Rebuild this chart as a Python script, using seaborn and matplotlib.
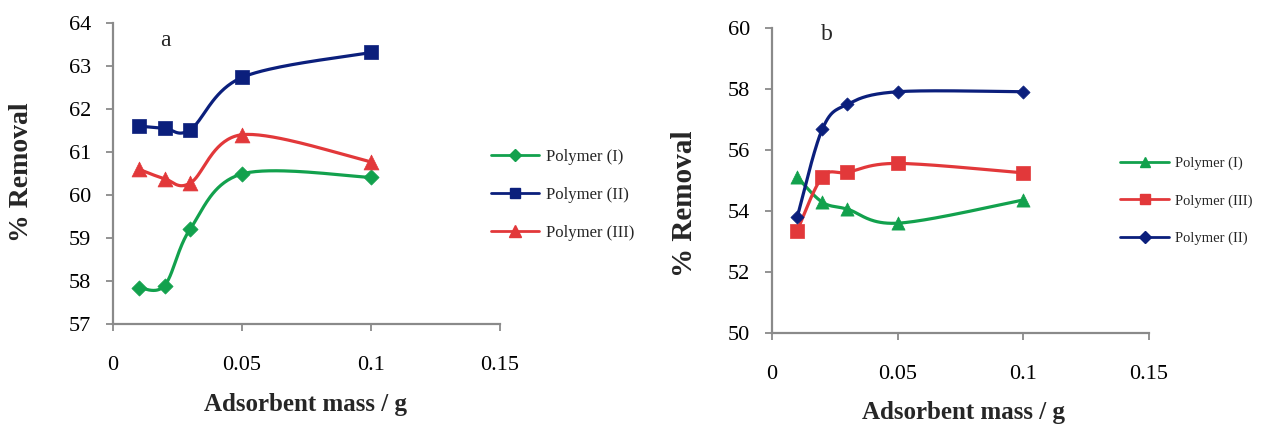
import numpy as np
import pandas as pd
import matplotlib
matplotlib.use("Agg")
import matplotlib.pyplot as plt
from matplotlib.lines import Line2D
import seaborn as sns

# ---------------- data ----------------
mass = [0.01, 0.02, 0.03, 0.05, 0.1]

a_poly_I = [57.85, 57.90, 59.22, 60.49, 60.41]
a_poly_II = [61.60, 61.55, 61.52, 62.73, 63.31]
a_poly_III = [60.60, 60.38, 60.28, 61.40, 60.77]

b_poly_I = [55.12, 54.30, 54.07, 53.61, 54.37]
b_poly_III = [53.36, 55.12, 55.28, 55.57, 55.26]
b_poly_II = [53.80, 56.69, 57.51, 57.92, 57.92]

x_ticks = [0, 0.05, 0.1, 0.15]
x_tick_labels = ["0", "0.05", "0.1", "0.15"]
a_y_ticks = [57, 58, 59, 60, 61, 62, 63, 64]
b_y_ticks = [50, 52, 54, 56, 58, 60]

GREEN = "#12A14D"
NAVY = "#0B1F7C"
RED = "#E2383A"
AXC = "#8A8A8A"

sns.set_theme(style="white")
plt.rcParams["font.family"] = ["Liberation Serif", "DejaVu Serif"]


def excel_smooth(xs, ys, n=40):
    xs = np.asarray(xs, float)
    ys = np.asarray(ys, float)
    P = np.column_stack([xs, ys])
    out = []
    for i in range(len(P) - 1):
        p0 = P[i - 1] if i > 0 else P[i]
        p1 = P[i]
        p2 = P[i + 1]
        p3 = P[i + 2] if i + 2 < len(P) else P[i + 1]
        c1 = p1 + (p2 - p0) / 6.0
        c2 = p2 - (p3 - p1) / 6.0
        t = np.linspace(0, 1, n)[:, None]
        seg = ((1 - t) ** 3) * p1 + 3 * ((1 - t) ** 2) * t * c1 + 3 * (1 - t) * t ** 2 * c2 + t ** 3 * p2
        if i > 0:
            seg = seg[1:]
        out.append(seg)
    S = np.vstack(out)
    return S[:, 0], S[:, 1]


def draw_series(ax, ys, color, marker, ms):
    sx, sy = excel_smooth(mass, ys)
    df = pd.DataFrame({"x": sx, "y": sy})
    sns.lineplot(data=df, x="x", y="y", sort=False, ax=ax, color=color, lw=2.3,
                 estimator=None, legend=False, zorder=2)
    dp = pd.DataFrame({"x": mass, "y": ys})
    sns.scatterplot(data=dp, x="x", y="y", ax=ax, color=color, marker=marker,
                    s=ms, edgecolor=color, linewidth=0.5, zorder=3, legend=False)


def style_axes(ax, yticks, ylim):
    ax.set_xlim(0, 0.15)
    ax.set_ylim(*ylim)
    ax.set_xticks(x_ticks)
    ax.set_xticklabels(x_tick_labels)
    ax.set_yticks(yticks)
    ax.set_yticklabels([str(v) for v in yticks])
    for s in ["top", "right"]:
        ax.spines[s].set_visible(False)
    for s in ["left", "bottom"]:
        ax.spines[s].set_color(AXC)
        ax.spines[s].set_linewidth(1.6)
    ax.tick_params(axis="both", direction="out", length=5, width=1.3, color=AXC,
                   labelsize=16, labelcolor="black", left=True, bottom=True)
    ax.tick_params(axis="x", pad=17.5)
    ax.tick_params(axis="y", pad=11)
    ax.set_xlabel("")
    ax.set_ylabel("")
    ax.grid(False)


fig = plt.figure(figsize=(12.66, 4.30), dpi=100)

# ---------- panel a ----------
axa = fig.add_axes([113 / 1266, 1 - 324.3 / 430, (500 - 113) / 1266, (324.3 - 22.7) / 430])
draw_series(axa, a_poly_I, GREEN, "D", 60)
draw_series(axa, a_poly_II, NAVY, "s", 105)
draw_series(axa, a_poly_III, RED, "^", 115)
style_axes(axa, a_y_ticks, (57, 64))
fig.text(165 / 1266, 1 - 40 / 430, "a", fontsize=17, ha="center", va="center")
fig.text(22 / 1266, 1 - 172 / 430, "% Removal", rotation=90, fontsize=20,
         fontweight="bold", ha="center", va="center")
fig.text(306 / 1266, 1 - 405 / 430, "Adsorbent mass / g", fontsize=18,
         fontweight="bold", ha="center", va="center")

handles_a = [
    Line2D([], [], color=GREEN, lw=2.0, marker="D", ms=6.5, label="Polymer (I)"),
    Line2D([], [], color=NAVY, lw=2.0, marker="s", ms=7.5, label="Polymer (II)"),
    Line2D([], [], color=RED, lw=2.0, marker="^", ms=8, label="Polymer (III)"),
]
fig.legend(handles=handles_a, loc="center left", bbox_to_anchor=(484 / 1266, 1 - 195 / 430),
           frameon=False, fontsize=12, handlelength=2.9, handletextpad=0.4,
           labelspacing=1.3, borderaxespad=0)

# ---------- panel b ----------
axb = fig.add_axes([772 / 1266, 1 - 333.3 / 430, (1149 - 772) / 1266, (333.3 - 28.3) / 430])
draw_series(axb, b_poly_I, GREEN, "^", 90)
draw_series(axb, b_poly_III, RED, "s", 90)
draw_series(axb, b_poly_II, NAVY, "D", 45)
style_axes(axb, b_y_ticks, (50, 60))
fig.text(827 / 1266, 1 - 35 / 430, "b", fontsize=17, ha="center", va="center")
fig.text(684 / 1266, 1 - 204 / 430, "% Removal", rotation=90, fontsize=21,
         fontweight="bold", ha="center", va="center")
fig.text(963 / 1266, 1 - 412 / 430, "Adsorbent mass / g", fontsize=18,
         fontweight="bold", ha="center", va="center")

handles_b = [
    Line2D([], [], color=GREEN, lw=2.0, marker="^", ms=7, label="Polymer (I)"),
    Line2D([], [], color=RED, lw=2.0, marker="s", ms=7, label="Polymer (III)"),
    Line2D([], [], color=NAVY, lw=2.0, marker="D", ms=6, label="Polymer (II)"),
]
fig.legend(handles=handles_b, loc="center left", bbox_to_anchor=(1114 / 1266, 1 - 201 / 430),
           frameon=False, fontsize=10.5, handlelength=3.4, handletextpad=0.4,
           labelspacing=1.65, borderaxespad=0)

fig.savefig("out.png", dpi=100)
